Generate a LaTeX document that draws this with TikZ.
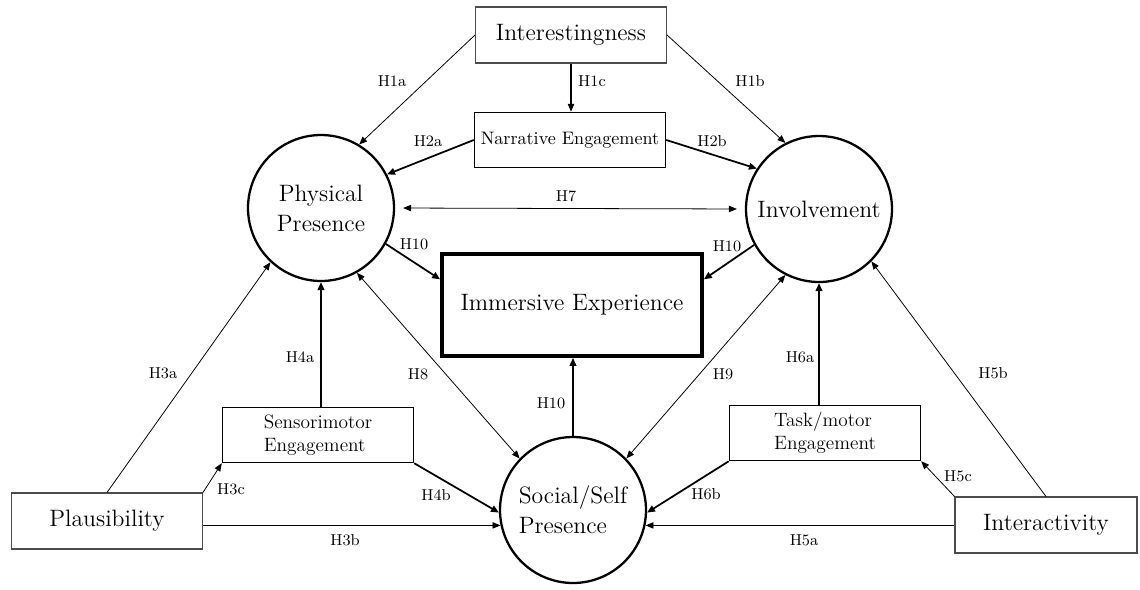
\documentclass[tikz,border=0pt]{standalone}
\usepackage{tikz}
\usetikzlibrary{arrows.meta,positioning,calc}

\begin{document}
\begin{tikzpicture}[x=0.02cm,y=-0.02cm,
  lbl/.style={font=\fontsize{9}{11}\selectfont,inner sep=0pt},
  box/.style={draw=black!70,line width=0.6pt,minimum width=3.82cm,minimum height=1.12cm,inner sep=0pt,font=\fontsize{13.5}{16}\selectfont},
  ebox/.style={draw,line width=0.85pt,minimum width=3.82cm,minimum height=1.1cm,inner sep=0pt,align=left,font=\fontsize{11}{13}\selectfont},
  circ/.style={draw,circle,line width=1.3pt,minimum size=2.92cm,inner sep=0pt,align=center,font=\fontsize{13.5}{17}\selectfont},
  arr/.style={-{Triangle[length=4.5pt,width=3.6pt]},line width=0.45pt},
  barr/.style={-{Triangle[length=4.5pt,width=3.8pt]},line width=1pt},
  darr/.style={{Triangle[length=4.5pt,width=3.6pt]}-{Triangle[length=4.5pt,width=3.6pt]},line width=0.45pt}]
\useasboundingbox (0,0) rectangle (1140,589);
% boxes
\node[box] (bxInt) at (571,35) {Interestingness};
\node[ebox,align=center,font=\fontsize{10.3}{12.5}\selectfont] (bxNar) at (570,140) {Narrative Engagement};
\node[draw,line width=2.2pt,minimum width=5.2cm,minimum height=2.04cm,inner sep=0pt,font=\fontsize{13.5}{16}\selectfont] (bxImm) at (572,305) {Immersive Experience};
\node[ebox] (bxSen) at (318,435) {Sensorimotor\\Engagement};
\node[ebox] (bxTask) at (825,433) {Task/motor\\Engagement};
\node[box] (bxPla) at (107,521) {Plausibility};
\node[box,minimum width=3.64cm] (bxIact) at (1046,525) {Interactivity};
% circles
\node[circ] (ciPhy) at (321,208) {Physical\\Presence};
\node[circ] (ciInv) at (819,209) {Involvement};
\node[circ,align=left] (ciSoc) at (573,510) {Social/Self\\Presence};
% paths
\draw[arr] (bxInt.west) -- (ciPhy.59);
\draw[arr] (bxInt.east) -- (ciInv.117);
\draw[arr,line width=0.6pt] (bxInt.south) -- (bxInt.south |- bxNar.north);
\draw[barr] (bxNar.west) -- (ciPhy.27);
\draw[barr] (bxNar.east) -- (ciInv.147);
\draw[darr,shorten <=0.16cm,shorten >=0.16cm] (ciPhy.east) -- (ciInv.west);
\draw[barr] (ciPhy.-29) -- (bxImm.169);
\draw[barr] (ciInv.209) -- (bxImm.11);
\draw[barr] (ciSoc.north) -- (ciSoc.north |- bxImm.south);
\draw[darr] (ciPhy.-61) -- (ciSoc.136);
\draw[darr] (ciInv.243) -- (ciSoc.44);
\draw[barr] (ciPhy.south |- bxSen.north) -- (ciPhy.south);
\draw[barr] (ciInv.south |- bxTask.north) -- (ciInv.south);
\draw[arr] (bxPla.north) -- (ciPhy.227);
\draw[arr] (bxPla.north east) -- (bxSen.south west);
\draw[arr] (bxPla.east |- ciSoc.192) -- (ciSoc.192);
\draw[barr] (bxSen.south east) -- (ciSoc.182);
\draw[barr] (bxTask.south west) -- (ciSoc.-2);
\draw[arr] (bxIact.west |- ciSoc.-12) -- (ciSoc.-12);
\draw[arr] (bxIact.north west) -- (bxTask.south east);
\draw[arr] (bxIact.north) -- (ciInv.-45);
% labels
\node[lbl] (lbH1a) at (392,81) {H1a};
\node[lbl] (lbH1b) at (750,81) {H1b};
\node[lbl] (lbH1c) at (592,81) {H1c};
\node[lbl] (lbH2a) at (428,141) {H2a};
\node[lbl] (lbH2b) at (712,141) {H2b};
\node[lbl] (lbH7) at (566,196) {H7};
\node[lbl] (lbH10a) at (414,244) {H10};
\node[lbl] (lbH10b) at (727,246) {H10};
\node[lbl] (lbH10c) at (551,403) {H10};
\node[lbl] (lbH4a) at (300,357) {H4a};
\node[lbl] (lbH6a) at (800,357) {H6a};
\node[lbl] (lbH8) at (418,374) {H8};
\node[lbl] (lbH9) at (723,374) {H9};
\node[lbl] (lbH3a) at (163,373) {H3a};
\node[lbl] (lbH5b) at (993,373) {H5b};
\node[lbl] (lbH3c) at (231,489) {H3c};
\node[lbl] (lbH4b) at (436,495) {H4b};
\node[lbl] (lbH3b) at (345,540) {H3b};
\node[lbl] (lbH6b) at (706,494) {H6b};
\node[lbl] (lbH5c) at (958,476) {H5c};
\node[lbl] (lbH5a) at (804,540) {H5a};
\end{tikzpicture}
\end{document}
